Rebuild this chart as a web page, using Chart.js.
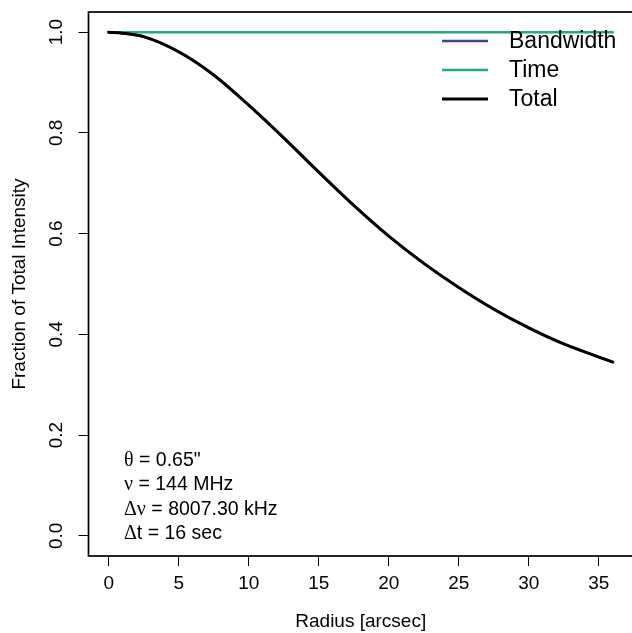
<!DOCTYPE html>
<html>
<head>
<meta charset="utf-8">
<script src="https://cdn.jsdelivr.net/npm/chart.js@4.4.1/dist/chart.umd.min.js"></script>
<style>
  html, body { margin: 0; padding: 0; background: #fff; overflow: hidden; }
  #wrap { width: 634px; height: 633px; }
</style>
</head>
<body>
<div id="wrap"><canvas id="chart" width="634" height="633"></canvas></div>
<script>
// values
const radius    = [0, 1, 2.5, 5, 7.5, 10, 12.5, 15, 17.5, 20, 22.5, 25, 27.5, 30, 32.5, 35, 36];
const bandwidth = [1.000, 0.998, 0.991, 0.961, 0.915, 0.855, 0.790, 0.722, 0.656, 0.595, 0.541, 0.493, 0.450, 0.413, 0.381, 0.355, 0.345];
const time      = [1, 1, 1, 1, 1, 1, 1, 1, 1, 1, 1, 1, 1, 1, 1, 1, 1];
const total     = [1.000, 0.998, 0.991, 0.961, 0.915, 0.855, 0.790, 0.722, 0.656, 0.595, 0.541, 0.493, 0.450, 0.413, 0.381, 0.355, 0.345];

const xTicks = [0, 5, 10, 15, 20, 25, 30, 35];
const yTicks = [0, 0.2, 0.4, 0.6, 0.8, 1.0];

const notes = ['\u03B8 = 0.65"', '\u03BD = 144 MHz', '\u0394\u03BD = 8007.30 kHz', '\u0394t = 16 sec'];

const FONT = '"Liberation Sans", Arial, Helvetica, sans-serif';
const SYMFONT = '"Liberation Serif", "DejaVu Serif", serif';

function pts(ys) {
    return radius.map((x, i) => ({ x: x, y: ys[i] }));
}

// greek letters in a serif face, like R's symbol font
function drawNote(ctx, s, x, y) {
    for (const ch of s) {
        const greek = ch >= '\u0370' && ch <= '\u03FF';
        ctx.font = greek ? '20px ' + SYMFONT : '19.5px ' + FONT;
        ctx.fillText(ch, x, y);
        x += ctx.measureText(ch).width;
    }
}

// box, rotated y labels, legend and notes (R style)
const rStyle = {
    id: 'rStyle',
    afterDraw(chart) {
        const ctx = chart.ctx;
        const a = chart.chartArea;
        const ys = chart.scales.y;

        ctx.save();
        ctx.strokeStyle = '#000';
        ctx.lineWidth = 1.7;
        ctx.strokeRect(a.left, a.top, a.right - a.left, a.bottom - a.top);

        // y tick labels, reading upwards
        ctx.fillStyle = '#000';
        ctx.font = '19px ' + FONT;
        ctx.textAlign = 'center';
        ctx.textBaseline = 'middle';
        ys.ticks.forEach(t => {
            const py = ys.getPixelForValue(t.value);
            ctx.save();
            ctx.translate(57, py);
            ctx.rotate(-Math.PI / 2);
            ctx.fillText(t.value.toFixed(1), 0, 0);
            ctx.restore();
        });

        // legend, in dataset order
        ctx.font = '23px ' + FONT;
        ctx.textAlign = 'left';
        ctx.textBaseline = 'middle';
        chart.data.datasets.forEach((ds, i) => {
            const ly = 41 + i * 29;
            ctx.strokeStyle = ds.borderColor;
            ctx.lineWidth = ds.borderWidth;
            ctx.beginPath();
            ctx.moveTo(442, ly);
            ctx.lineTo(488, ly);
            ctx.stroke();
            ctx.fillText(ds.label, 509, ly + 1);
        });

        // parameters
        ctx.textBaseline = 'alphabetic';
        notes.forEach((s, i) => {
            drawNote(ctx, s, 124, 466 + i * 24.3);
        });
        ctx.restore();
    }
};

new Chart(document.getElementById('chart'), {
    type: 'line',
    data: {
        datasets: [
            { label: 'Bandwidth', data: pts(bandwidth), borderColor: '#414487', borderWidth: 2.5, order: 3 },
            { label: 'Time', data: pts(time), borderColor: '#22A884', borderWidth: 2.5, order: 2 },
            { label: 'Total', data: pts(total), borderColor: '#000000', borderWidth: 3, order: 1 },
        ],
    },
    options: {
        responsive: false,
        animation: false,
        devicePixelRatio: 1,
        layout: { padding: { top: 12, right: 1, left: 0, bottom: 0 } },
        elements: {
            point: { radius: 0 },
            line: { cubicInterpolationMode: 'monotone', borderCapStyle: 'round' },
        },
        plugins: {
            legend: { display: false },
            tooltip: { enabled: false },
        },
        scales: {
            x: {
                type: 'linear',
                min: -1.44,
                max: 37.44,
                afterBuildTicks: s => { s.ticks = xTicks.map(v => ({ value: v })); },
                afterFit: s => { s.height = 77; },
                grid: { drawOnChartArea: false, drawTicks: true, tickLength: 10, color: '#000', lineWidth: 1 },
                border: { display: false },
                ticks: { color: '#000', font: { family: FONT, size: 19 }, padding: 6, maxRotation: 0 },
                title: { display: true, text: 'Radius [arcsec]', color: '#000', font: { family: FONT, size: 19 }, padding: { top: 0, bottom: 0 } },
            },
            y: {
                type: 'linear',
                min: -0.04,
                max: 1.04,
                afterBuildTicks: s => { s.ticks = yTicks.map(v => ({ value: v })); },
                afterFit: s => { s.width = 88.5; },
                grid: { drawOnChartArea: false, drawTicks: true, tickLength: 10, color: '#000', lineWidth: 1 },
                border: { display: false },
                ticks: { display: false },
                title: { display: true, text: 'Fraction of Total Intensity', color: '#000', font: { family: FONT, size: 19 }, padding: { top: 8, bottom: 0 } },
            },
        },
    },
    plugins: [rStyle],
});
</script>
</body>
</html>
